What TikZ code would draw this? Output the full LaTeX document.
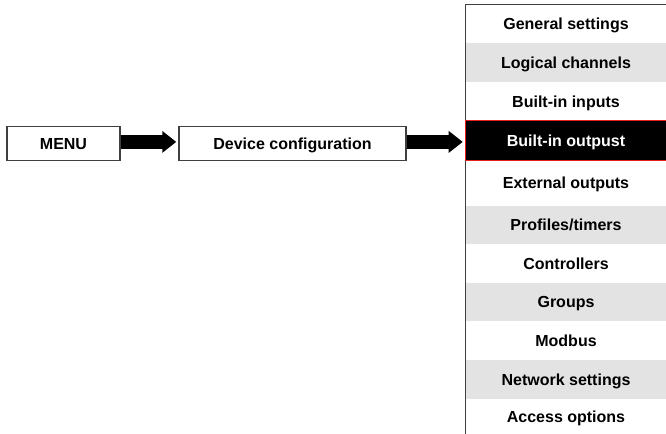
\documentclass[tikz,border=0pt]{standalone}
\usepackage{fontspec}
\setmainfont{Liberation Sans}
\usepackage{tikz}
\usetikzlibrary{arrows.meta,positioning}
\definecolor{menuGray}{RGB}{227,227,227}
\definecolor{menuEdge}{RGB}{64,64,64}
\definecolor{menuRed}{RGB}{230,30,30}

\begin{document}
\begin{tikzpicture}[x=0.75pt,y=-0.75pt,
  box/.style={draw=menuEdge, line width=1.1pt, fill=white, inner sep=0pt,
    minimum height=25.5pt, text height=8.6pt, text depth=0pt,
    font=\fontsize{12}{14}\selectfont\bfseries},
  rowbox/.style={inner sep=0pt, minimum width=150pt,
    text height=8.6pt, text depth=0pt,
    font=\fontsize{12}{14}\selectfont\bfseries},
  bigarrow/.style={line width=10.5pt, -{Triangle[length=10.5pt,width=15.75pt]}}]
\useasboundingbox (0,0) rectangle (666,434);

\node[box, minimum width=84.75pt] (menu) at (63.5,143.5) {MENU};
\node[box, minimum width=170.25pt] (devconf) at (292.5,143.5) {Device configuration};

% menu panel rows
\foreach \top/\bot/\lbl/\shade [count=\i] in
  {5/43/General settings/white, 43/82/Logical channels/menuGray,
   82/121/Built-in inputs/white, 121/160/Built-in outpust/black,
   160/206/External outputs/white, 206/244/{Profiles/timers}/menuGray,
   244/283/Controllers/white, 283/321/Groups/menuGray,
   321/360/Modbus/white, 360/399/Network settings/menuGray,
   399/434/Access options/white}
  \node[rowbox, fill=\shade, minimum height={(\bot-\top)*0.75pt}]
    (row\i) at (566,{(\top+\bot)/2}) {\lbl};
\node[rowbox, fill=black, text=white, minimum height=29.25pt] (row4) at (566,140.5) {Built-in outpust};

\draw[menuEdge, line width=1.1pt] (row1.north east) -- (row1.north west) -- (row11.south west);
\draw[menuRed, line width=1.1pt] (row4.north east) -- (row4.north west) -- (row4.south west) -- (row4.south east);

\draw[bigarrow] ([yshift=1.2pt]menu.east) -- ([xshift=-1.5pt,yshift=1.2pt]devconf.west);
\draw[bigarrow] ([yshift=1.2pt]devconf.east) -- ([xshift=-2.25pt,yshift=1.2pt]devconf.east -| row4.west);
\end{tikzpicture}
\end{document}
